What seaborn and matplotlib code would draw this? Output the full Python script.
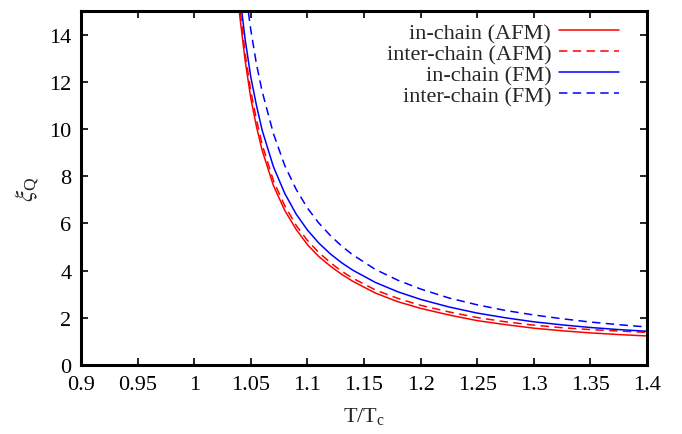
import matplotlib
matplotlib.use("Agg")
import matplotlib.pyplot as plt
import pandas as pd
import seaborn as sns

# Correlation length xi_Q versus reduced temperature T/Tc
t_red_in_afm = [1.038, 1.040, 1.045, 1.050, 1.055, 1.060, 1.070, 1.080, 1.090, 1.100,
                1.110, 1.120, 1.130, 1.140, 1.160, 1.180, 1.200, 1.225, 1.250, 1.275,
                1.300, 1.325, 1.350, 1.375, 1.400]
xi_in_afm = [15.9, 14.9, 12.9, 11.3, 10.1, 9.1, 7.6, 6.55, 5.75, 5.1,
             4.6, 4.2, 3.85, 3.55, 3.05, 2.68, 2.40, 2.12, 1.88, 1.71,
             1.56, 1.45, 1.36, 1.29, 1.23]

t_red_inter_afm = [1.039, 1.040, 1.045, 1.050, 1.055, 1.060, 1.070, 1.080, 1.090, 1.100,
                   1.110, 1.120, 1.130, 1.140, 1.160, 1.180, 1.200, 1.225, 1.250, 1.275,
                   1.300, 1.325, 1.350, 1.375, 1.400]
xi_inter_afm = [15.9, 15.3, 13.2, 11.6, 10.4, 9.35, 7.8, 6.75, 5.92, 5.28,
                4.77, 4.35, 3.98, 3.68, 3.18, 2.82, 2.53, 2.25, 2.01, 1.83,
                1.69, 1.58, 1.50, 1.44, 1.38]

t_red_in_fm = [1.040, 1.042, 1.045, 1.050, 1.055, 1.060, 1.070, 1.080, 1.090, 1.100,
               1.110, 1.120, 1.130, 1.140, 1.160, 1.180, 1.200, 1.225, 1.250, 1.275,
               1.300, 1.325, 1.350, 1.375, 1.400]
xi_in_fm = [16.0, 15.0, 13.8, 12.2, 11.0, 9.95, 8.4, 7.27, 6.4, 5.72,
            5.17, 4.72, 4.34, 4.02, 3.50, 3.10, 2.78, 2.46, 2.20, 2.00,
            1.83, 1.70, 1.59, 1.50, 1.43]

t_red_inter_fm = [1.046, 1.048, 1.050, 1.055, 1.060, 1.070, 1.080, 1.090, 1.100,
                  1.110, 1.120, 1.130, 1.140, 1.160, 1.180, 1.200, 1.225, 1.250, 1.275,
                  1.300, 1.325, 1.350, 1.375, 1.400]
xi_inter_fm = [15.7, 14.9, 14.2, 12.75, 11.6, 9.8, 8.45, 7.45, 6.65,
               6.02, 5.5, 5.05, 4.67, 4.05, 3.59, 3.22, 2.84, 2.55, 2.31,
               2.12, 1.96, 1.82, 1.71, 1.61]

series_labels = ["in-chain (AFM)", "inter-chain (AFM)", "in-chain (FM)", "inter-chain (FM)"]
series_colors = ["#ff0000", "#ff0000", "#0000ff", "#0000ff"]
series_dashed = [False, True, False, True]

x_ticks = [0.9, 0.95, 1, 1.05, 1.1, 1.15, 1.2, 1.25, 1.3, 1.35, 1.4]
x_tick_labels = ["0.9", "0.95", "1", "1.05", "1.1", "1.15", "1.2", "1.25", "1.3", "1.35", "1.4"]
y_ticks = [0, 2, 4, 6, 8, 10, 12, 14]

sns.set_theme(style="ticks")
plt.rcParams["font.family"] = ["Liberation Serif", "DejaVu Serif"]
plt.rcParams["mathtext.fontset"] = "stix"

frames = []
for lab, xs, ys in zip(series_labels,
                       [t_red_in_afm, t_red_inter_afm, t_red_in_fm, t_red_inter_fm],
                       [xi_in_afm, xi_inter_afm, xi_in_fm, xi_inter_fm]):
    frames.append(pd.DataFrame({"T": xs, "xi": ys, "series": lab}))
df = pd.concat(frames, ignore_index=True)

fig = plt.figure(figsize=(6.82, 4.35), dpi=100)
ax = fig.add_axes([81 / 682, 69 / 435, 566 / 682, 354 / 435])

for lab, col, dashed in zip(series_labels, series_colors, series_dashed):
    sub = df[df["series"] == lab]
    sns.lineplot(data=sub, x="T", y="xi", ax=ax, color=col, lw=1.1,
                 sort=False, estimator=None, label=lab)
    if dashed:
        ax.lines[-1].set_dashes((5.5, 3.5))

ax.set_xlim(0.9, 1.4)
ax.set_ylim(0, 15)
ax.set_xticks(x_ticks)
ax.set_xticklabels(x_tick_labels)
ax.set_yticks(y_ticks)
ax.tick_params(direction="in", length=5, width=1.2, top=True, right=True,
               labelsize=16, pad=7, colors="black")
for sp in ax.spines.values():
    sp.set_linewidth(2.2)
    sp.set_color("black")

ax.set_xlabel(r"T/T$_\mathregular{c}$", fontsize=16, labelpad=8)
ax.set_ylabel(r"$\xi_\mathregular{Q}$", fontsize=18, labelpad=6)

leg = ax.legend(loc="upper right", bbox_to_anchor=(0.9505, 0.967), frameon=False,
                markerfirst=False, fontsize=16, handlelength=2.7, handletextpad=0.35,
                labelspacing=0.02, borderpad=0, borderaxespad=0)
leg._legend_box.align = "right"

fig.savefig("out.png", dpi=100)
